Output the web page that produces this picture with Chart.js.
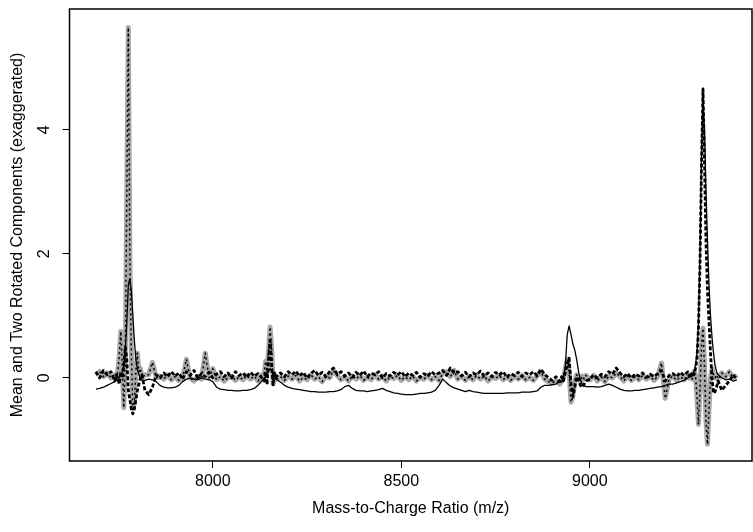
<!DOCTYPE html>
<html>
<head>
<meta charset="utf-8">
<script src="https://cdn.jsdelivr.net/npm/chart.js@4.4.1/dist/chart.umd.min.js"></script>
<style>
  html, body { margin: 0; padding: 0; background: #fff; }
  .chart-container { width: 753px; height: 532px; position: relative; }
</style>
</head>
<body>
<div class="chart-container">
  <canvas id="spectrumChart"></canvas>
</div>
<script>
// m/z grid (finer around the peaks)
const mz = [
  7690, 7700, 7710, 7720, 7730, 7740,
  7744, 7748, 7752, 7756, 7760, 7764, 7768, 7772, 7776, 7780, 7784, 7788, 7792, 7796, 7800, 7804, 7808, 7812,
  7820, 7830, 7840, 7850, 7860, 7870, 7880, 7890, 7900, 7910, 7920, 7930, 7940, 7950, 7960, 7970, 7980, 7990,
  8000, 8010, 8020, 8030, 8040, 8050, 8060, 8070, 8080, 8090, 8100, 8110, 8120, 8130,
  8136, 8140, 8144, 8148, 8152, 8156, 8160, 8164, 8168,
  8180, 8190, 8200, 8210, 8220, 8230, 8240, 8250, 8260, 8270,
  8280, 8290, 8300, 8310, 8320, 8330, 8340, 8350, 8360, 8370,
  8380, 8390, 8400, 8410, 8420, 8430, 8440, 8450, 8460, 8470,
  8480, 8490, 8500, 8510, 8520, 8530, 8540, 8550, 8560, 8570,
  8580, 8590, 8600, 8610, 8620, 8630, 8640, 8650, 8660, 8670,
  8680, 8690, 8700, 8710, 8720, 8730, 8740, 8750, 8760, 8770,
  8780, 8790, 8800, 8810, 8820, 8830, 8840, 8850, 8860, 8870,
  8880, 8890, 8900, 8910, 8920,
  8925, 8930, 8935, 8940, 8945, 8950, 8955, 8960, 8965, 8970, 8975, 8980, 8985, 8990,
  9000, 9010, 9020, 9030, 9040, 9050, 9060, 9070, 9080, 9090, 9100, 9110, 9120, 9130,
  9140, 9150, 9160, 9170, 9180, 9190, 9200, 9210, 9220, 9230, 9240, 9250, 9260,
  9264, 9268, 9272, 9276, 9280, 9284, 9288, 9292, 9296, 9300, 9304, 9308, 9312, 9316, 9320, 9324, 9328, 9332, 9336, 9340,
  9350, 9360, 9370, 9380, 9390
];

// mean spectrum (thin solid line)
const meanSpectrum = [
  -0.18, -0.17, -0.15, -0.12, -0.09, -0.06,
  -0.04, -0.02, 0.0, 0.05, 0.1, 0.2, 0.45, 0.9, 1.5, 1.6, 1.4, 1.0, 0.6, 0.3, 0.15, 0.05, 0.0, -0.03,
  -0.04, -0.02, -0.03, -0.06, -0.12, -0.15, -0.16, -0.16, -0.15, -0.12, -0.06, -0.02, 0.0, -0.02, -0.03, 0.0, -0.02, -0.03,
  -0.06, -0.15, -0.18, -0.19, -0.2, -0.2, -0.21, -0.21, -0.2, -0.2, -0.19, -0.17, -0.12, -0.05,
  0.0, 0.02, 0.05, 0.1, 0.15, 0.12, 0.06, 0.02, -0.02,
  -0.07, -0.12, -0.15, -0.17, -0.18, -0.19, -0.2, -0.21, -0.22, -0.22,
  -0.23, -0.23, -0.23, -0.22, -0.22, -0.21, -0.19, -0.14, -0.12, -0.17,
  -0.2, -0.21, -0.21, -0.22, -0.21, -0.2, -0.19, -0.17, -0.2, -0.22,
  -0.24, -0.25, -0.26, -0.27, -0.27, -0.27, -0.26, -0.25, -0.25, -0.24,
  -0.23, -0.2, -0.12, -0.02, -0.08, -0.13, -0.16, -0.18, -0.2, -0.22,
  -0.2, -0.22, -0.23, -0.24, -0.25, -0.25, -0.25, -0.25, -0.25, -0.25,
  -0.24, -0.24, -0.24, -0.24, -0.23, -0.23, -0.23, -0.22, -0.21, -0.15,
  -0.12, -0.12, -0.11, -0.1, -0.05,
  -0.05, 0.0, 0.2, 0.7, 0.84, 0.7, 0.55, 0.45, 0.3, 0.1, -0.03, -0.1, -0.13, -0.14,
  -0.14, -0.14, -0.15, -0.14, -0.12, -0.1, -0.12, -0.15, -0.18, -0.2, -0.21, -0.21, -0.2, -0.2,
  -0.19, -0.18, -0.17, -0.16, -0.15, -0.14, -0.12, -0.1, -0.1, -0.08, -0.06, -0.04, 0.0,
  0.02, 0.03, 0.05, 0.1, 0.2, 0.4, 0.9, 2.0, 3.6, 4.55, 4.0, 3.0, 2.2, 1.5, 1.0, 0.65, 0.4, 0.2, 0.1, 0.05,
  0.0, -0.03, -0.02, -0.05, -0.03
];

// first rotated component (grey band with dotted line)
const component1 = [
  0.05, 0.1, 0.02, 0.08, 0.0, 0.05,
  0.0, 0.1, 0.35, 0.75, 0.2, -0.48, 0.3, 3.0, 5.65, 2.0, 0.4, -0.5, -0.4, 0.1, 0.4, 0.1, 0.15, 0.0,
  0.05, 0.05, 0.25, 0.0, 0.03, -0.02, 0.05, -0.03, 0.02, -0.04, 0.0, 0.3, 0.0, -0.05, 0.02, -0.02, 0.4, 0.0,
  0.15, -0.03, 0.02, -0.05, 0.0, 0.03, -0.04, 0.02, -0.03, 0.04, -0.02, 0.03, -0.05, 0.05,
  0.05, 0.27, 0.1, 0.45, 0.82, 0.5, -0.1, 0.05, -0.02,
  0.02, -0.04, 0.03, -0.02, 0.04, -0.05, 0.01, -0.03, 0.05, -0.02,
  0.02, -0.06, 0.03, 0.0, 0.12, 0.04, -0.03, 0.02, -0.05, 0.03,
  -0.02, 0.04, -0.04, 0.01, -0.03, 0.05, -0.02, 0.03, -0.05, 0.02,
  -0.01, 0.04, -0.04, 0.02, -0.03, 0.03, -0.05, 0.01, -0.02, 0.04,
  -0.03, 0.02, -0.04, 0.08, 0.1, 0.02, 0.12, -0.02, 0.03, -0.04,
  0.02, -0.03, 0.04, -0.02, 0.03, -0.05, 0.02, -0.01, 0.04, -0.03,
  0.02, -0.04, 0.03, -0.02, 0.04, -0.03, 0.01, -0.04, 0.03, 0.1,
  -0.02, -0.06, -0.08, -0.05, -0.1,
  -0.05, 0.0, 0.15, 0.3, 0.1, -0.39, -0.3, -0.05, 0.05, 0.0, -0.05, 0.03, -0.02, 0.04,
  -0.03, 0.04, -0.05, 0.02, -0.06, 0.03, 0.0, 0.08, 0.02, -0.05, 0.03, -0.04, 0.02, -0.03,
  0.04, -0.02, 0.03, -0.04, 0.02, 0.24, -0.33, -0.02, 0.03, -0.04, 0.02, -0.03, 0.05,
  0.0, 0.05, -0.02, 0.1, 0.05, -0.3, -0.75, -0.2, 0.5, 0.8, 0.2, -0.7, -1.07, -0.5, 0.0, 0.15, 0.05, 0.0, 0.05, -0.02,
  0.08, 0.02, 0.1, 0.0, 0.05
];

// second rotated component (thick dashed black)
const component2 = [
  0.1, 0.0, 0.12, 0.05, 0.1, -0.05,
  0.05, 0.0, -0.1, 0.1, 0.0, 0.2, 0.5, 0.3, -0.2, -0.35, -0.5, -0.58, -0.5, -0.35, -0.2, -0.1, 0.0, 0.05,
  -0.2, -0.27, -0.15, 0.05, 0.0, 0.08, 0.02, 0.1, 0.03, 0.08, -0.02, 0.1, 0.04, 0.12, 0.0, 0.07, 0.02, 0.09,
  0.0, 0.06, 0.1, 0.02, 0.08, 0.0, 0.1, 0.04, 0.08, 0.01, 0.09, 0.03, 0.07, 0.0,
  -0.05, 0.1, -0.11, 0.3, 0.6, 0.2, -0.11, 0.08, 0.02,
  0.08, 0.02, 0.1, 0.05, 0.11, 0.03, 0.09, 0.0, 0.07, 0.12,
  0.04, 0.09, 0.02, 0.1, 0.16, 0.06, 0.1, 0.03, 0.08, 0.01,
  0.09, 0.04, 0.11, 0.02, 0.08, 0.05, 0.1, 0.0, 0.07, 0.03,
  0.09, 0.05, 0.1, 0.02, 0.08, 0.04, 0.09, 0.01, 0.07, 0.03,
  0.1, 0.05, 0.08, 0.12, 0.04, 0.16, 0.08, 0.1, 0.03, 0.09,
  0.02, 0.08, 0.05, 0.11, 0.03, 0.08, 0.02, 0.09, 0.05, 0.1,
  0.01, 0.07, 0.04, 0.09, 0.02, 0.08, 0.05, 0.1, 0.04, 0.14,
  0.06, 0.0, -0.04, 0.02, -0.06,
  0.02, -0.05, 0.1, 0.2, 0.32, -0.1, -0.3, -0.15, 0.02, -0.05, -0.12, -0.15, -0.1, -0.05,
  -0.02, 0.05, 0.0, 0.06, 0.02, 0.1, 0.06, 0.16, 0.08, 0.02, 0.07, 0.0, 0.06, 0.03,
  0.08, 0.01, 0.06, 0.02, 0.07, 0.12, -0.05, 0.04, 0.07, 0.02, 0.09, 0.04, 0.1,
  0.08, 0.0, 0.1, 0.05, 0.15, 0.3, 0.8, 1.8, 3.4, 4.66, 3.5, 2.2, 1.4, 0.9, 0.4, 0.0, -0.25, -0.22, -0.15, -0.05,
  -0.2, -0.12, -0.05, 0.05, -0.02
];

const xTicks = [8000, 8500, 9000];
const yTicks = [0, 2, 4];

const FONT = '"Liberation Sans", Arial, Helvetica, sans-serif';

function toPoints(values) {
  return mz.map((m, i) => ({ x: m, y: values[i] }));
}

// plot box + rotated y tick labels, R style
const boxPlugin = {
  id: 'boxPlugin',
  afterDraw(chart) {
    const { ctx, chartArea } = chart;
    const yScale = chart.scales.y;
    ctx.save();
    ctx.strokeStyle = '#000';
    ctx.lineWidth = 1.5;
    ctx.strokeRect(chartArea.left, chartArea.top, chartArea.right - chartArea.left, chartArea.bottom - chartArea.top);
    ctx.fillStyle = '#000';
    ctx.font = '16px ' + FONT;
    ctx.textAlign = 'center';
    ctx.textBaseline = 'middle';
    yScale.ticks.forEach(t => {
      const py = yScale.getPixelForValue(t.value);
      ctx.save();
      ctx.translate(chartArea.left - 25, py);
      ctx.rotate(-Math.PI / 2);
      ctx.fillText(String(t.value), 0, 0);
      ctx.restore();
    });
    ctx.restore();
  }
};

const lineBase = { pointRadius: 0, borderJoinStyle: 'round', borderCapStyle: 'butt', tension: 0 };

const ctx = document.getElementById('spectrumChart');
new Chart(ctx, {
  type: 'line',
  data: {
    datasets: [
      {
        ...lineBase,
        label: 'Component 1 (band)',
        data: toPoints(component1),
        borderColor: '#a8a8a8',
        borderWidth: 5,
        order: 4,
      },
      {
        ...lineBase,
        label: 'Mean',
        data: toPoints(meanSpectrum),
        borderColor: '#000',
        borderWidth: 1.3,
        order: 3,
      },
      {
        ...lineBase,
        label: 'Component 1',
        data: toPoints(component1),
        borderColor: '#000',
        borderWidth: 1.5,
        borderDash: [2, 3],
        order: 2,
      },
      {
        ...lineBase,
        label: 'Component 2',
        data: toPoints(component2),
        borderColor: '#000',
        borderWidth: 2.8,
        borderDash: [4, 2],
        order: 1,
      },
    ],
  },
  options: {
    responsive: true,
    maintainAspectRatio: false,
    animation: false,
    layout: { padding: { top: 9, right: 1, left: 0, bottom: 0 } },
    plugins: {
      legend: { display: false },
      tooltip: { enabled: false },
    },
    scales: {
      x: {
        type: 'linear',
        min: 7620,
        max: 9430,
        afterBuildTicks: scale => { scale.ticks = xTicks.map(v => ({ value: v })); },
        afterFit: scale => { scale.height = 71; },
        border: { display: false },
        grid: { drawOnChartArea: false, drawTicks: true, tickLength: 7, color: '#000', lineWidth: 1 },
        ticks: {
          color: '#000',
          padding: 4,
          maxRotation: 0,
          font: { family: FONT, size: 16 },
          callback: v => String(v),
        },
        title: {
          display: true,
          text: 'Mass-to-Charge Ratio (m/z)',
          color: '#000',
          font: { family: FONT, size: 16 },
          padding: { top: 0, bottom: 14 },
        },
      },
      y: {
        type: 'linear',
        min: -1.34,
        max: 5.95,
        afterBuildTicks: scale => { scale.ticks = yTicks.map(v => ({ value: v })); },
        afterFit: scale => { scale.width = 69.5; },
        border: { display: false },
        grid: { drawOnChartArea: false, drawTicks: true, tickLength: 7, color: '#000', lineWidth: 1 },
        ticks: { display: false },
        title: {
          display: true,
          text: 'Mean and Two Rotated Components (exaggerated)',
          color: '#000',
          font: { family: FONT, size: 16 },
          padding: { top: 8, bottom: 0 },
        },
      },
    },
  },
  plugins: [boxPlugin],
});
</script>
</body>
</html>
